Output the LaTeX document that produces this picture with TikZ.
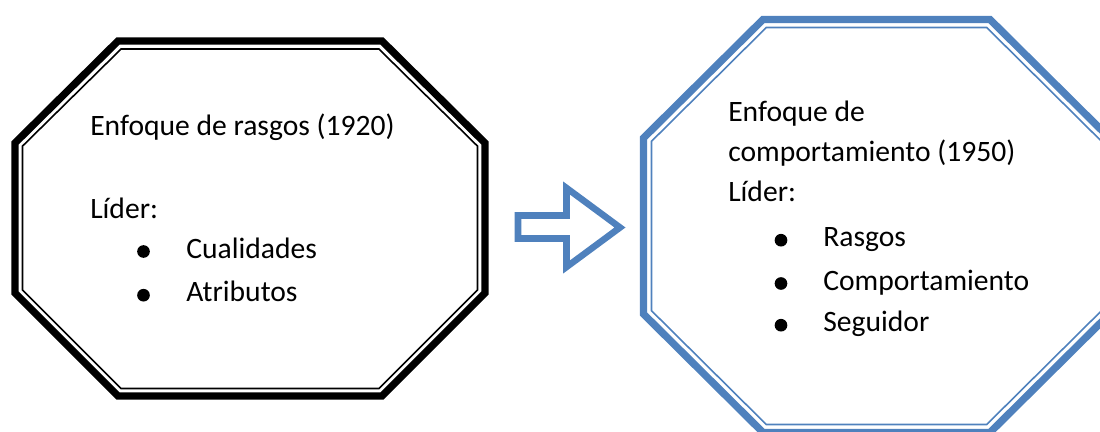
\documentclass[tikz,border=0pt]{standalone}
\usepackage{fontspec}
\setmainfont{Carlito}
\definecolor{ofblue}{HTML}{4F81BD}
\begin{document}
\begin{tikzpicture}[x=0.75pt,y=-0.75pt,
  txt/.style={anchor=base west,inner sep=0pt,font=\fontsize{22.2}{26}\selectfont},
  bul/.style={circle,fill=black,inner sep=0pt,minimum size=9.5pt},
  outerblack/.style={draw=black,line width=5.5pt,miter limit=10},
  innerblack/.style={draw=black,line width=1.2pt},
  outerblue/.style={draw=ofblue,line width=5.5pt,miter limit=10},
  innerblue/.style={draw=ofblue,line width=1.2pt},
  blockarrow/.style={draw=ofblue,line width=4.9pt,miter limit=10,fill=white}]
\useasboundingbox (0,0) rectangle (1100,432);
% left octagon
\draw[outerblack] (118,41) -- (382,41) -- (485,143) -- (485,293) -- (382,396) -- (118,396) -- (15,293) -- (15,143) -- cycle;
\draw[innerblack] (121.1,49) -- (378.9,49) -- (477.5,146.1) -- (477.5,289.9) -- (378.9,388.5) -- (121.1,388.5) -- (22.5,289.9) -- (22.5,146.1) -- cycle;
% right octagon
\draw[outerblue] (763,19.5) -- (990,19.5) -- (1109.5,138) -- (1109.5,314) -- (990,432.5) -- (763,432.5) -- (643.5,314) -- (643.5,138) -- cycle;
\draw[innerblue] (766.3,27.5) -- (986.7,27.5) -- (1101.5,141.3) -- (1101.5,310.7) -- (986.7,424.5) -- (766.3,424.5) -- (651.5,310.7) -- (651.5,141.3) -- cycle;
% block arrow
\draw[blockarrow] (518,215.5) -- (566.5,215.5) -- (566.5,188) -- (620,227.5) -- (566.5,267) -- (566.5,238.5) -- (518,238.5) -- cycle;
% left texts
\node[txt] (l1) at (90,135) {Enfoque de rasgos (1920)};
\node[txt] (l2) at (90,218) {Líder:};
\node[bul] (lb1) at (143.5,251.5) {};
\node[txt] (l3) at (186,258) {Cualidades};
\node[bul] (lb2) at (143.5,295.2) {};
\node[txt] (l4) at (186,301.7) {Atributos};
% right texts
\node[txt] (r1) at (728,121.7) {Enfoque de};
\node[txt] (r2) at (728,161.7) {comportamiento (1950)};
\node[txt] (r3) at (728,201.7) {Líder:};
\node[bul] (rb1) at (781,240.2) {};
\node[txt] (r4) at (823,246.7) {Rasgos};
\node[bul] (rb2) at (781,283.5) {};
\node[txt] (r5) at (823,290) {Comportamiento};
\node[bul] (rb3) at (781,325.2) {};
\node[txt] (r6) at (823,331.7) {Seguidor};
\end{tikzpicture}
\end{document}
